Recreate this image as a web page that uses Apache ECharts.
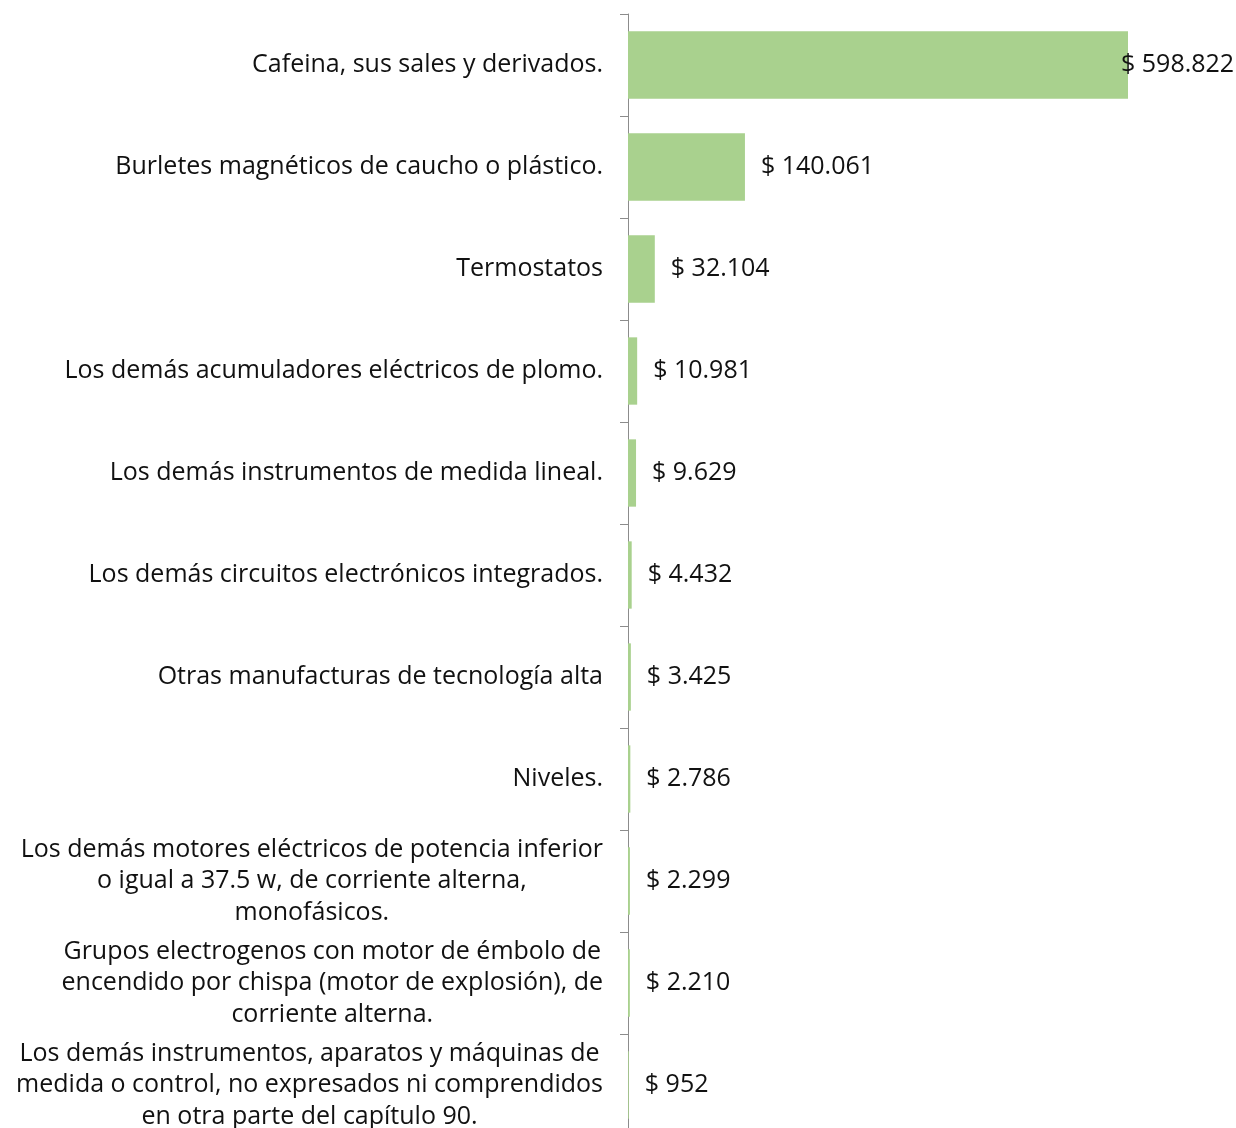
<!DOCTYPE html>
<html>
<head>
<meta charset="utf-8">
<script src="https://cdn.jsdelivr.net/npm/echarts@6/dist/echarts.min.js"></script>
<style>
  html, body { margin: 0; padding: 0; background: #fff; }
  #chart { width: 1236px; height: 1128px; }
</style>
</head>
<body>
<div id="chart"></div>
<script>
// productos (de arriba hacia abajo)
var categorias = [
  'Cafeina, sus sales y derivados.',
  'Burletes magnéticos de caucho o plástico.',
  'Termostatos',
  'Los demás acumuladores eléctricos de plomo.',
  'Los demás instrumentos de medida lineal.',
  'Los demás circuitos electrónicos integrados.',
  'Otras manufacturas de tecnología alta',
  'Niveles.',
  'Los demás motores eléctricos de potencia inferior\no igual a 37.5 w, de corriente alterna,\nmonofásicos.',
  'Grupos electrogenos con motor de émbolo de\nencendido por chispa (motor de explosión), de\ncorriente alterna.',
  'Los demás instrumentos, aparatos y máquinas de\nmedida o control, no expresados ni comprendidos\nen otra parte del capítulo 90.'
]
// valores en dólares
var valores = [598822, 140061, 32104, 10981, 9629, 4432, 3425, 2786, 2299, 2210, 952]

var fuente = '"Open Sans", "Noto Sans", sans-serif'

function formatoPesos (v) {
  return '$ ' + String(v).replace(/\B(?=(\d{3})+(?!\d))/g, '.')
}

var chart = echarts.init(document.getElementById('chart'))

var datos = valores.map(function (v, i) {
  var item = { value: v }
  // la etiqueta de la barra mas grande se monta sobre la barra
  if (i === 0) {
    item.label = { offset: [-23, 0] }
  }
  return item
})

chart.setOption({
  animation: false,
  grid: {
    left: 628,
    width: 500,
    top: 14,
    height: 1122,
    containLabel: false,
    outerBoundsMode: 'none'
  },
  xAxis: {
    type: 'value',
    min: 0,
    max: 598822,
    show: false
  },
  yAxis: {
    type: 'category',
    inverse: true,
    data: categorias,
    axisLine: { show: true, lineStyle: { color: '#8c8c8c', width: 1 } },
    axisTick: { show: true, length: 8, lineStyle: { color: '#8c8c8c' } },
    axisLabel: {
      margin: 25,
      interval: 0,
      color: '#111',
      fontFamily: fuente,
      fontSize: 25,
      lineHeight: 31.5,
      formatter: function (v) {
        return v.split('\n').map(function (l) { return '{c|' + l + '}' }).join('\n')
      },
      rich: {
        c: { align: 'center', fontFamily: fuente, fontSize: 25, lineHeight: 31.5, color: '#111' }
      }
    },
    splitLine: { show: false }
  },
  series: [{
    type: 'bar',
    data: datos,
    barCategoryGap: '34%',
    itemStyle: { color: '#a9d18e' },
    label: {
      show: true,
      position: 'right',
      distance: 16,
      color: '#111',
      fontFamily: fuente,
      fontSize: 25,
      formatter: function (p) { return formatoPesos(p.value) }
    }
  }]
})
</script>
</body>
</html>
